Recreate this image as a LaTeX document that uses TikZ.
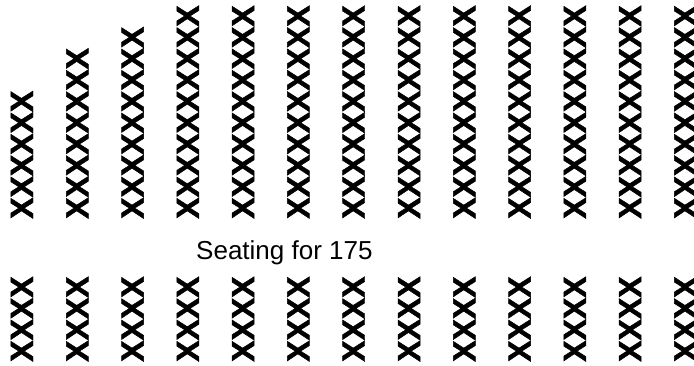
\documentclass[tikz,border=0pt]{standalone}
\usepackage{fontspec}
\setmainfont{Liberation Sans}
\newfontfamily\seatfont{Liberation Sans Bold}[FakeBold=1.5]
\begin{document}
\begin{tikzpicture}[x=1pt,y=1pt,
  seat/.style={rotate=90, anchor=base west, inner sep=0pt, font=\seatfont\fontsize{32}{32}\selectfont},
  caption/.style={anchor=base west, inner sep=0pt, font=\fontsize{26}{26}\selectfont}]
\useasboundingbox (0,0) rectangle (694,366);
\foreach \n [count=\i from 0] in {XXXXXX,XXXXXXXX,XXXXXXXXX,XXXXXXXXXX,XXXXXXXXXX,XXXXXXXXXX,XXXXXXXXXX,XXXXXXXXXX,XXXXXXXXXX,XXXXXXXXXX,XXXXXXXXXX,XXXXXXXXXX,XXXXXXXXXX}
  {\node[seat] (top\i) at ({33+55.29*\i},147) {\n};}
\foreach \i in {0,...,12}
  {\node[seat] (bot\i) at ({33+55.29*\i},4) {XXXX};}
\node[caption] (cap) at (196,106) {Seating for 175};
\end{tikzpicture}
\end{document}
